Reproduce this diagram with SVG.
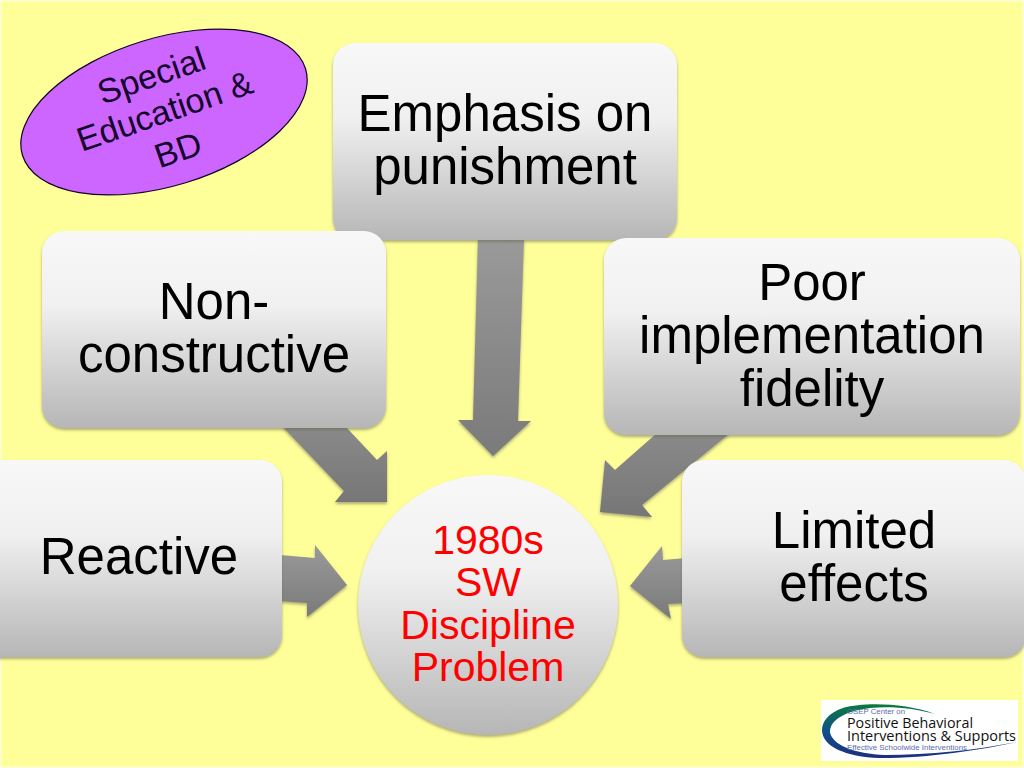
<svg xmlns="http://www.w3.org/2000/svg" width="1024" height="768" viewBox="0 0 1024 768">
<style>
text{font-family:"Liberation Sans",Arial,sans-serif;text-anchor:middle}
.b{font-size:51px;fill:#000}
.c{font-size:41px;fill:#f00}
.e{font-size:34px;fill:#14002a}
.box{fill:url(#g);filter:url(#s)}
.arr{fill:url(#ga);filter:url(#s)}
.dark{fill:url(#gd);filter:url(#s)}
.l{text-anchor:start}
</style>
<defs>
<linearGradient id="g" x1="0" y1="0" x2="0" y2="1"><stop offset="0" stop-color="#f8f8f8"/><stop offset=".38" stop-color="#f0f0f0"/><stop offset="1" stop-color="#b6b6b6"/></linearGradient>
<linearGradient id="ga" x1="0" y1="0" x2="0" y2="1"><stop offset="0" stop-color="#9a9a9a"/><stop offset="1" stop-color="#7a7a7a"/></linearGradient>
<linearGradient id="gd" x1="0" y1="0" x2="0" y2="1"><stop offset="0" stop-color="#8a8a8a"/><stop offset="1" stop-color="#767676"/></linearGradient>
<linearGradient id="lg" x1="0" y1="0" x2="0" y2="1"><stop offset="0" stop-color="#0a7a3c"/><stop offset=".5" stop-color="#12508a"/><stop offset="1" stop-color="#1a2f80"/></linearGradient>
<filter id="s" x="-10%" y="-10%" width="120%" height="120%"><feDropShadow dx="0" dy="2" stdDeviation="1.800" flood-color="#665" flood-opacity=".55"/></filter>
</defs>
<rect width="1024" height="768" fill="#ffff99"/>
<rect x="1" y="1" width="1022" height="766" fill="none" stroke="#fdfdc8" stroke-width="2"/>
<g id="connectors">
<polygon class="arr" points="478,238 524,238 518,421 531,421 493,456 458,420 473,420"/>
<polygon class="dark" points="282,426 345,426 377,460 387,451 387,502 335,502 344,491"/>
<polygon class="dark" points="600,512 605,460 615,470 657,433 730,433 642,505 652,517"/>
<polygon class="arr" points="280,555 315,558 315,545 347,585 307,617 307,603 280,601"/>
<polygon class="arr" points="630,586 662,546 663,560 686,558 686,603 668,604 671,619"/>
</g>
<g id="node-special">
<ellipse cx="164" cy="112" rx="148" ry="74" transform="rotate(-17 164 112)" fill="#cc66ff" stroke="#14002a" stroke-width="1.200"/>
<g transform="rotate(-19 164 112)" class="e">
<text x="164" y="85">Special</text>
<text x="165" y="123">Education &amp;</text>
<text x="165" y="164">BD</text>
</g>
</g>
<g id="node-emphasis">
<rect class="box" x="333" y="43" width="344" height="197" rx="22"/>
<text class="b" x="505" y="131">Emphasis on</text>
<text class="b" x="505" y="184">punishment</text>
</g>
<g id="node-nonconstructive">
<rect class="box" x="42" y="231" width="344" height="197" rx="22"/>
<text class="b" x="214" y="319">Non-</text>
<text class="b" x="214" y="372">constructive</text>
</g>
<g id="node-poor">
<rect class="box" x="604" y="238" width="416" height="197" rx="22"/>
<text class="b" x="812" y="300">Poor</text>
<text class="b" x="812" y="353">implementation</text>
<text class="b" x="812" y="406">fidelity</text>
</g>
<g id="node-reactive">
<rect class="box" x="-62" y="460" width="344" height="197" rx="22"/>
<text class="b" x="139" y="574">Reactive</text>
</g>
<g id="node-limited">
<rect class="box" x="682" y="460" width="344" height="197" rx="22"/>
<text class="b" x="854" y="548">Limited</text>
<text class="b" x="854" y="601">effects</text>
</g>
<g id="node-center">
<circle class="box" cx="488" cy="605" r="130"/>
<text class="c" x="488" y="554">1980s</text>
<text class="c" x="488" y="596">SW</text>
<text class="c" x="488" y="639">Discipline</text>
<text class="c" x="488" y="681">Problem</text>
</g>
<g id="logo">
<rect x="821" y="700" width="197" height="61" fill="#fff"/>
<path d="M935,714 C905,703 865,702 843,708 C828,713 822,722 822,730 C822,746 845,757 880,758 C930,758 980,750 1017,742 C975,750 930,755 885,755 C855,754 832,745 830,732 C830,720 845,711 870,708 C895,706 915,709 935,714Z" fill="url(#lg)"/>
<text class="l" x="847" y="714" textLength="58" lengthAdjust="spacingAndGlyphs" style="font-size:7px;fill:#5a6cae">OSEP Center on</text>
<text class="l" x="847" y="728" textLength="126" lengthAdjust="spacingAndGlyphs" style="font-family:'Open Sans',sans-serif;font-size:14.500px;fill:#111">Positive Behavioral</text>
<text class="l" x="847" y="741" textLength="169" lengthAdjust="spacingAndGlyphs" style="font-family:'Open Sans',sans-serif;font-size:14.500px;fill:#111">Interventions &amp; Supports</text>
<text class="l" x="847" y="749.500" textLength="120" lengthAdjust="spacingAndGlyphs" style="font-size:7px;fill:#5a6cae">Effective Schoolwide Interventions</text>
</g>
</svg>
